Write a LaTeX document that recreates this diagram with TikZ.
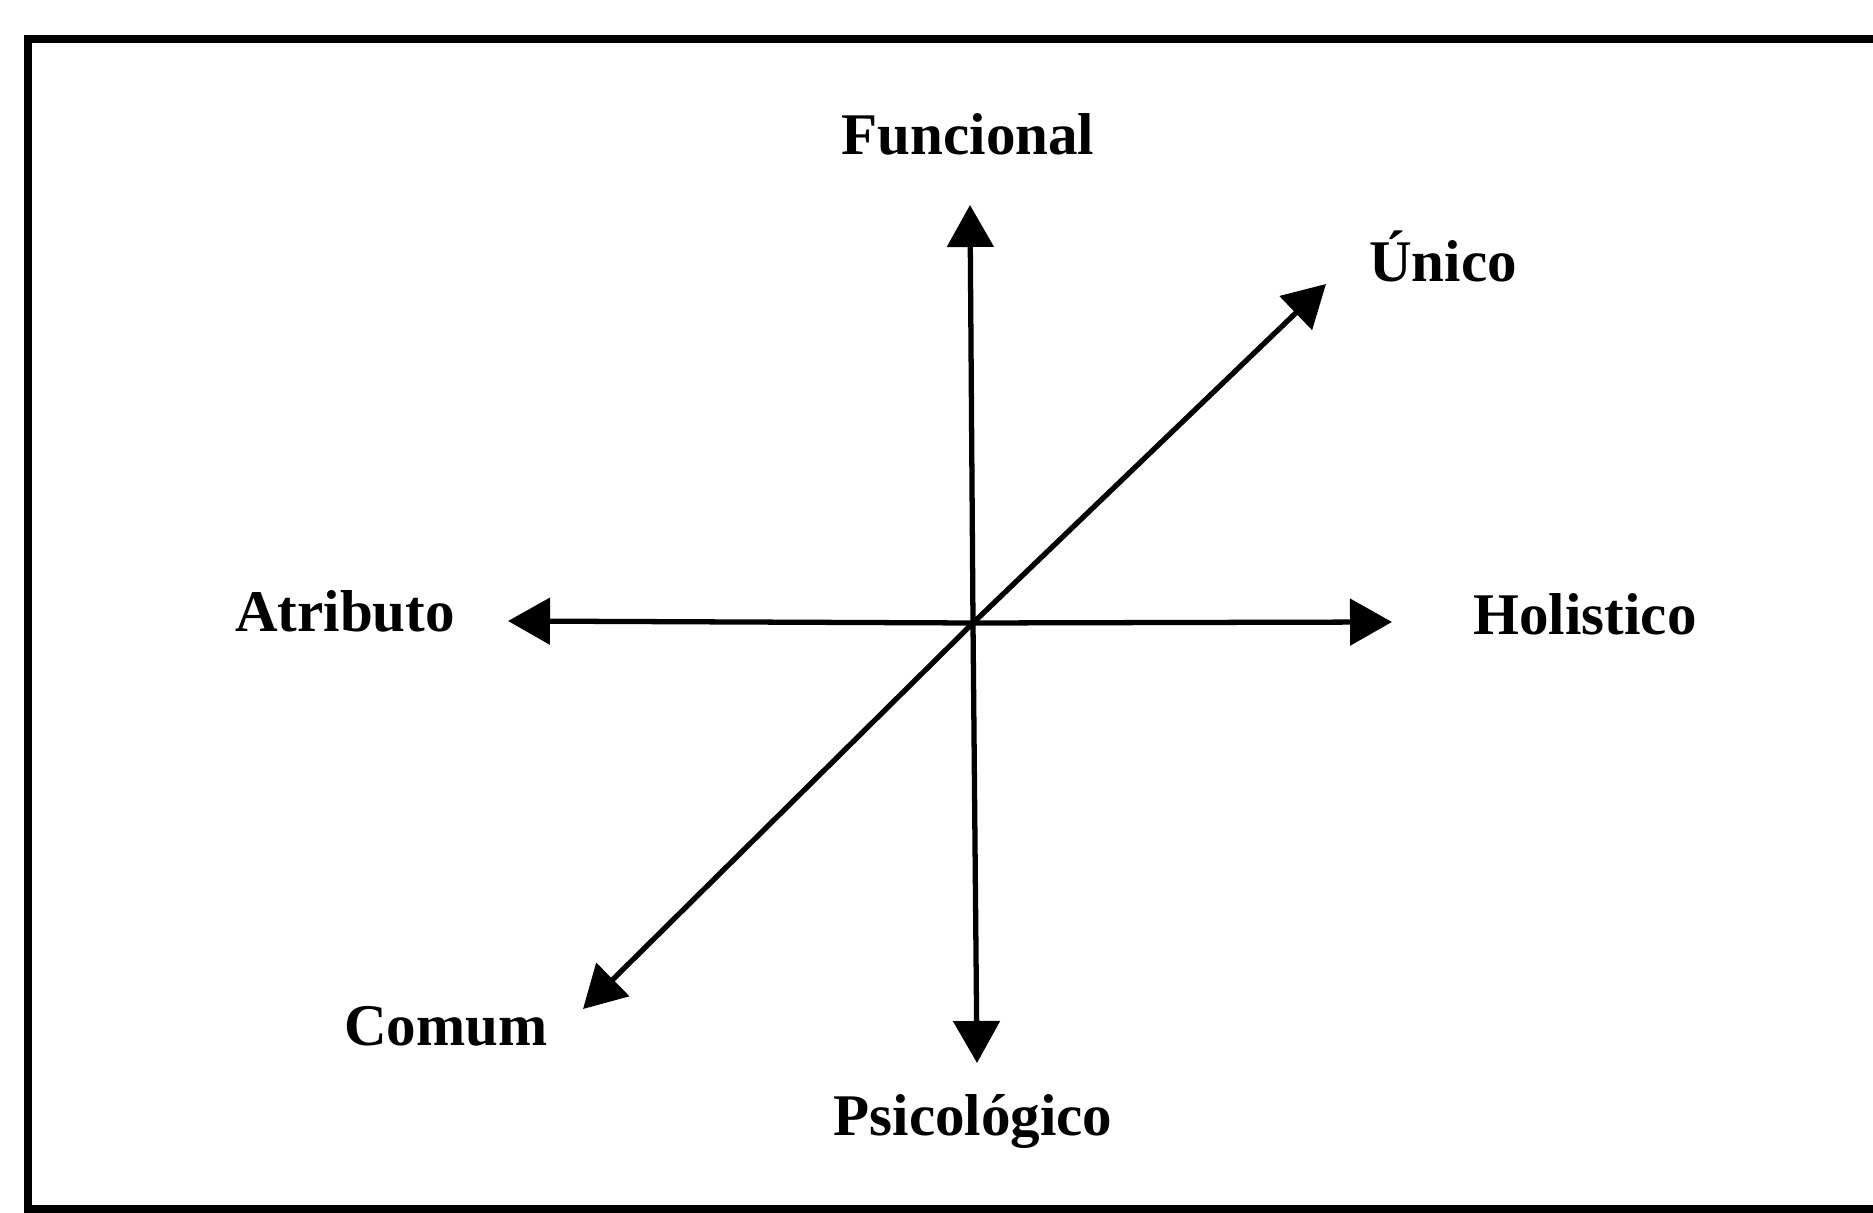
\documentclass[tikz,border=0pt]{standalone}
\usepackage{fontspec}
\setmainfont{Liberation Serif}
\usetikzlibrary{arrows.meta}

\tikzset{
	eixo/.style={line width=1.5pt,-{Triangle[length=0.42cm,width=0.46cm]}},
	rotulo/.style={anchor=base,font=\fontsize{16.8}{20}\selectfont\bfseries,inner sep=0pt}
}

\begin{document}
\begin{tikzpicture}
			\clip (0,0) rectangle (18.73,-12.13);
			\fill[white] (0,0) rectangle (18.73,-12.13);
			\draw[line width=2.2pt] (19.5,-0.39) -- (0.28,-0.39) -- (0.28,-12.09) -- (19.5,-12.09);

			\coordinate (O) at (9.73,-6.23);
			\coordinate (F) at (9.70,-2.05);
			\coordinate (P) at (9.77,-10.63);
			\coordinate (A) at (5.08,-6.21);
			\coordinate (H) at (13.92,-6.22);
			\coordinate (U) at (13.26,-2.84);
			\coordinate (C) at (5.83,-10.09);

			\draw[eixo] (O)--(F);
			\draw[eixo] (O)--(P);
			\draw[eixo] (O)--(A);
			\draw[eixo] (O)--(H);
			\draw[eixo] (O)--(U);
			\draw[eixo] (O)--(C);

			\node[rotulo] (funcional) at (9.68,-1.55) {Funcional};
			\node[rotulo] (unico) at (14.43,-2.82) {Único};
			\node[rotulo] (atributo) at (3.45,-6.32) {Atributo};
			\node[rotulo] (holistico) at (15.85,-6.35) {Holistico};
			\node[rotulo] (comum) at (4.46,-10.45) {Comum};
			\node[rotulo] (psicologico) at (9.73,-11.35) {Psicológico};

		\end{tikzpicture}
\end{document}
